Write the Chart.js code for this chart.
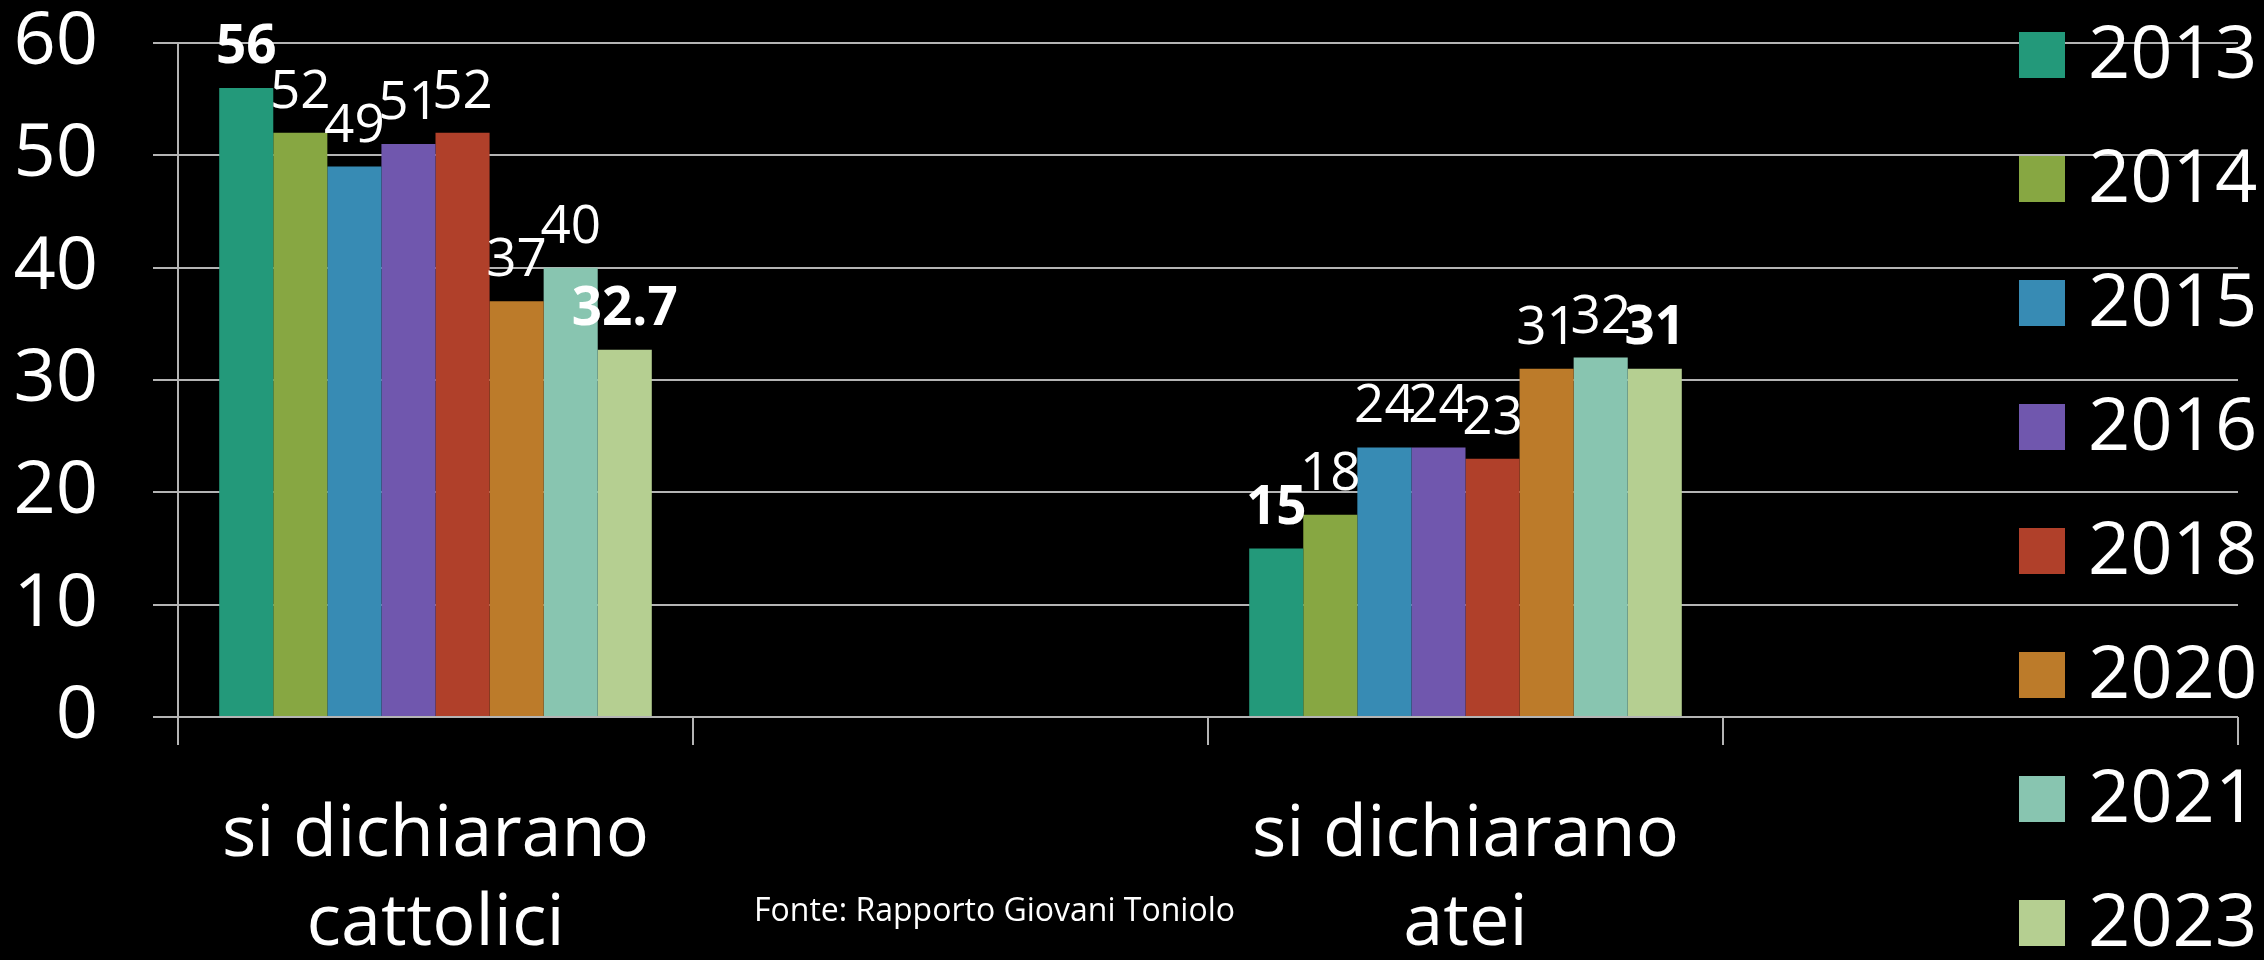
<!DOCTYPE html>
<html>
<head>
<meta charset="utf-8">
<script src="https://cdn.jsdelivr.net/npm/chart.js@4"></script>
<style>
  html, body { margin: 0; padding: 0; background: #000; }
  #wrap { width: 2264px; height: 960px; }
</style>
</head>
<body>
<div id="wrap"><canvas id="myChart" width="2264" height="960"></canvas></div>
<script>
// categories (two empty slots, like the original sheet)
const categories = [['si dichiarano', 'cattolici'], '', ['si dichiarano', 'atei'], ''];
const years = ['2013', '2014', '2015', '2016', '2018', '2020', '2021', '2023'];
const cattolici = [56, 52, 49, 51, 52, 37, 40, 32.7];
const atei = [15, 18, 24, 24, 23, 31, 32, 31];
const colors = ['#23997a', '#87a742', '#378bb4', '#7057ae', '#b0402a', '#bc7b2a', '#88c5b0', '#b5cf91'];
const yTicks = [0, 10, 20, 30, 40, 50, 60];
const source = 'Fonte: Rapporto Giovani Toniolo';

const gridColor = '#b4b4b4';
const fontFam = '"Open Sans", sans-serif';

// labels on top of the bars, first and last year in bold
const valueLabels = {
  id: 'valueLabels',
  afterDatasetsDraw(chart) {
    const ctx = chart.ctx;
    ctx.save();
    ctx.fillStyle = '#fff';
    ctx.textAlign = 'center';
    ctx.textBaseline = 'alphabetic';
    chart.data.datasets.forEach((ds, i) => {
      const bold = (i === 0 || i === chart.data.datasets.length - 1);
      ctx.font = (bold ? 'bold ' : '') + '53px ' + fontFam;
      chart.getDatasetMeta(i).data.forEach((bar, j) => {
        const v = ds.data[j];
        if (v === null || v === undefined) return;
        ctx.fillText(String(v), bar.x, bar.y - 25);
      });
    });
    ctx.restore();
  }
};

// legend over the right side of the plot
const sideLegend = {
  id: 'sideLegend',
  afterDraw(chart) {
    const ctx = chart.ctx;
    ctx.save();
    ctx.font = '74px ' + fontFam;
    ctx.textBaseline = 'middle';
    ctx.textAlign = 'left';
    chart.data.datasets.forEach((ds, i) => {
      const cy = 55 + i * 124;
      ctx.fillStyle = ds.backgroundColor;
      ctx.fillRect(2019, cy - 23, 46, 46);
      ctx.fillStyle = '#fff';
      ctx.fillText(ds.label, 2088, cy + 2);
    });
    // source note
    ctx.font = '32px ' + fontFam;
    ctx.textBaseline = 'alphabetic';
    ctx.fillText(source, 754, 921);
    ctx.restore();
  }
};

const ctx = document.getElementById('myChart');

new Chart(ctx, {
  type: 'bar',
  data: {
    labels: categories,
    datasets: years.map((y, i) => ({
      label: y,
      data: [cattolici[i], null, atei[i], null],
      backgroundColor: colors[i],
      borderWidth: 0
    }))
  },
  options: {
    responsive: false,
    animation: false,
    maintainAspectRatio: false,
    layout: { padding: { top: 43, right: 26, left: 0, bottom: 0 } },
    datasets: {
      bar: { barPercentage: 1, categoryPercentage: 0.84, grouped: true, skipNull: false }
    },
    plugins: {
      legend: { display: false },
      tooltip: { enabled: false }
    },
    scales: {
      x: {
        grid: { drawOnChartArea: false, color: gridColor, lineWidth: 2, tickLength: 28, offset: true },
        border: { display: false },
        ticks: {
          color: '#fff',
          font: { family: fontFam, size: 72, lineHeight: 1.24 },
          padding: 46,
          maxRotation: 0,
          autoSkip: false
        },
        afterFit(scale) { scale.height = 243; }
      },
      y: {
        min: 0,
        max: 60,
        afterBuildTicks(scale) { scale.ticks = yTicks.map(v => ({ value: v })); },
        grid: { color: gridColor, lineWidth: 2, tickLength: 25 },
        border: { display: true, color: gridColor, width: 2 },
        ticks: {
          color: '#fff',
          font: { family: fontFam, size: 74 },
          padding: 55
        },
        afterFit(scale) {
          scale.width = 178;
          scale.paddingTop = 0;
          scale.paddingBottom = 0;
        }
      }
    }
  },
  plugins: [valueLabels, sideLegend]
});
</script>
</body>
</html>
